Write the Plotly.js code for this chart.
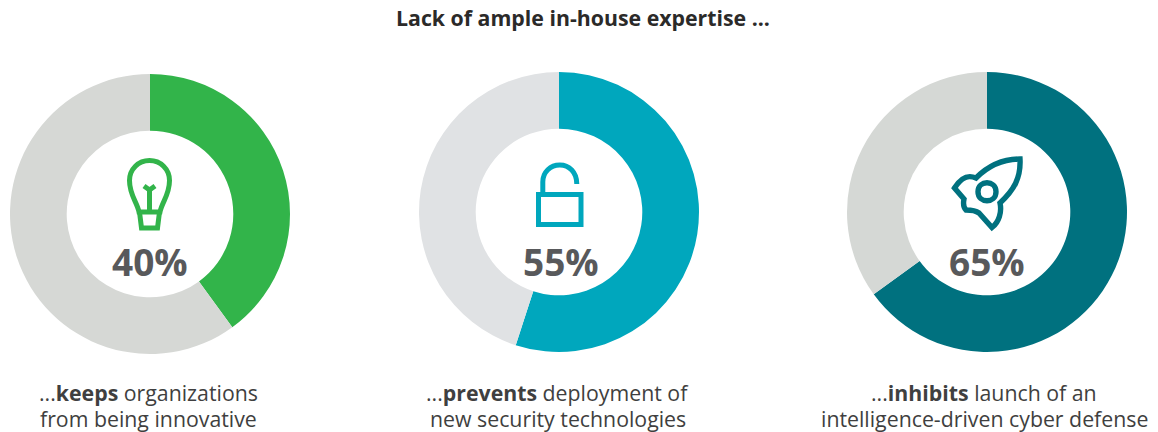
<!DOCTYPE html>
<html>
<head>
<meta charset="utf-8">
<script src="https://cdn.plot.ly/plotly-3.0.1.min.js"></script>
<style>html,body{margin:0;padding:0;background:#fff}#chart{width:1158px;height:432px}</style>
</head>
<body>
<div id="chart"></div>
<script>
const chartTitle = 'Lack of ample in-house expertise ...';
const shares = [40, 55, 65];
const shareLabels = ['40%', '55%', '65%'];
const captionFirstLines = [
  '...<b>keeps</b> organizations',
  '...<b>prevents</b> deployment of',
  '...<b>inhibits</b> launch of an'
];
const captionSecondLines = [
  'from being innovative',
  'new security technologies',
  'intelligence-driven cyber defense'
];
const accentColors = ['#32b44a', '#00a7bd', '#00717f'];
const restColors = ['#d6d8d5', '#e0e2e4', '#d5d8d5'];

const W = 1158, H = 432, R = 140;
const centers = [[150, 214], [559, 212], [987, 212]];
const captionX = [148.3, 557.5, 984.3];
const textGrey = '#58595b';
const family = '"Open Sans", sans-serif';

// One donut per statement, drawn clockwise from twelve o'clock.
const donuts = shares.map((v, i) => ({
  type: 'pie',
  values: [v, 100 - v],
  marker: {colors: [accentColors[i], restColors[i]], line: {width: 0}},
  hole: 0.595,
  sort: false,
  direction: 'clockwise',
  rotation: 0,
  textinfo: 'none',
  hoverinfo: 'none',
  showlegend: false,
  domain: {
    x: [(centers[i][0] - R) / W, (centers[i][0] + R) / W],
    y: [1 - (centers[i][1] + R) / H, 1 - (centers[i][1] - R) / H]
  }
}));

// Empty trace keeps the pixel-scaled axes alive for the icon shapes.
const canvas = {type: 'scatter', x: [], y: [], showlegend: false, hoverinfo: 'none'};

const icon = (i, width, path) => ({
  type: 'path', xref: 'x', yref: 'y', layer: 'above',
  line: {color: accentColors[i], width: width}, fillcolor: 'rgba(0,0,0,0)', path: path
});

const shapes = [
  // Light bulb
  icon(0, 5, 'M 139 212 C 137 202 129.5 195 129.5 180.5 C 129.5 169 138.5 160.5 149.5 160.5 C 160.5 160.5 169.5 169 169.5 180.5 C 169.5 195 162 202 160 212 Z'),
  icon(0, 5, 'M 139.5 212 L 141.5 228 L 157.5 228 L 159.5 212'),
  icon(0, 5, 'M 149.5 212 L 149.5 190 M 144 186 L 149.5 190 L 155 186'),
  // Open padlock
  icon(1, 5, 'M 538.5 194.5 L 581 194.5 L 581 224.5 L 538.5 224.5 Z'),
  icon(1, 5, 'M 542.8 194 L 542.8 182 C 542.8 172 550.5 165 559.8 165 C 569 165 576.8 172 576.8 184'),
  // Rocket
  icon(2, 5.4, 'M 1020 159 C 1001 159 988 166 976 178 C 969 175 962 176 954.5 188 L 964 199 C 963 204 964 208 966 210 C 971 210 975 210 979 213 L 992 227.5 C 999 222 1002 212 1000 203 C 1014 190 1021 178 1020 159 Z'),
  icon(2, 5.4, 'M 978 191.7 C 978 179.7 996 179.7 996 191.7 C 996 203.7 978 203.7 978 191.7 Z')
];

const annotation = (x, y, text, size, color) => ({
  x: x, y: y, xref: 'x', yref: 'y', text: text, showarrow: false,
  xanchor: 'center', yanchor: 'middle', align: 'center',
  font: {family: family, size: size, color: color}
});

const annotations = [annotation(583, 17.5, '<b>' + chartTitle + '</b>', 21.3, '#2b2a29')];
shares.forEach((v, i) => {
  annotations.push(annotation(centers[i][0] + (i === 1 ? 2 : 0), 261, '<b>' + shareLabels[i] + '</b>', 37, textGrey));
  annotations.push(annotation(captionX[i], 392, captionFirstLines[i], 21.3, '#3f3f40'));
  annotations.push(annotation(captionX[i], 418, captionSecondLines[i], 21.3, '#3f3f40'));
});

const hiddenAxis = range => ({range: range, visible: false, fixedrange: true});

Plotly.newPlot('chart', donuts.concat([canvas]), {
  width: W,
  height: H,
  margin: {l: 0, r: 0, t: 0, b: 0},
  paper_bgcolor: '#ffffff',
  plot_bgcolor: 'rgba(0,0,0,0)',
  xaxis: hiddenAxis([0, W]),
  yaxis: hiddenAxis([H, 0]),
  shapes: shapes,
  annotations: annotations
}, {displayModeBar: false, staticPlot: true});
</script>
</body>
</html>
